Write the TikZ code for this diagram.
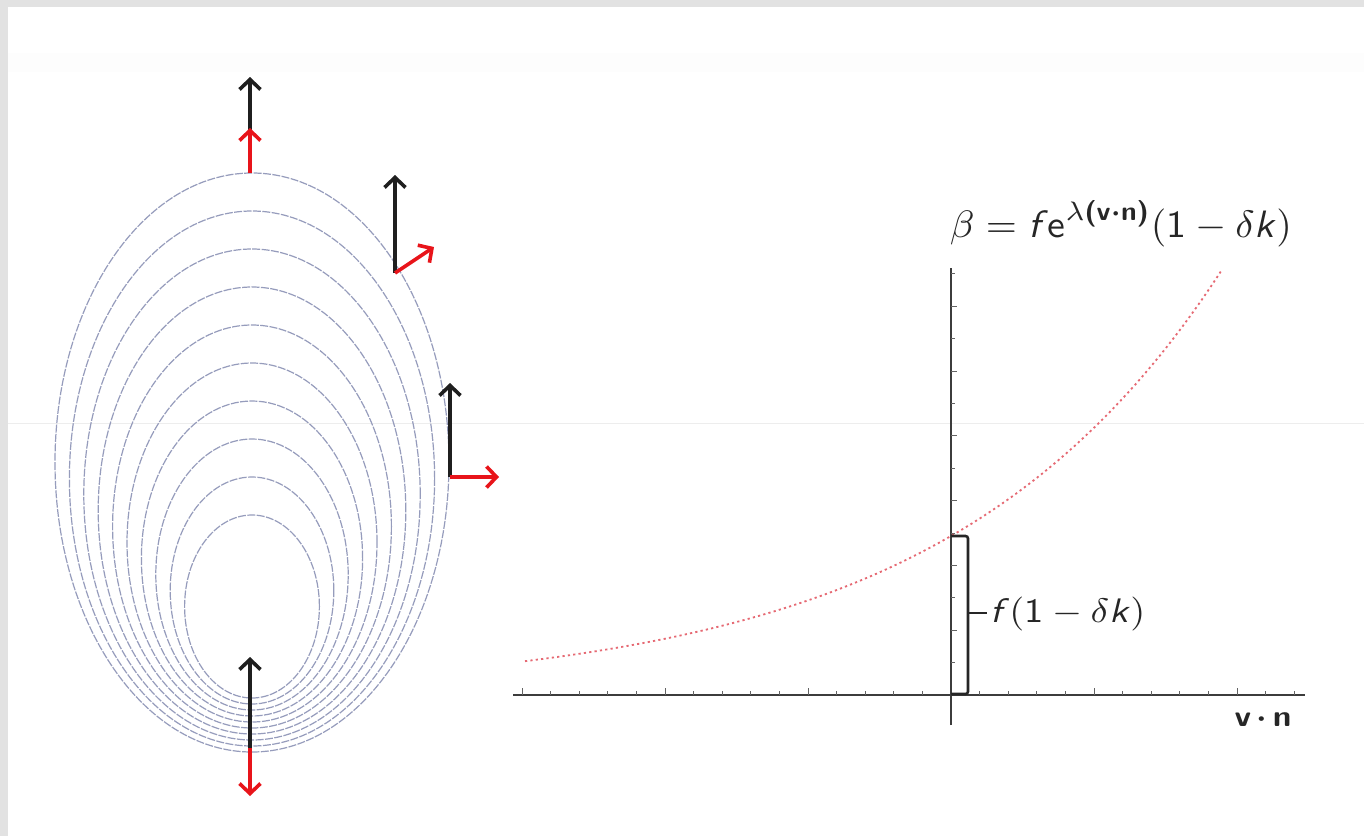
\documentclass[tikz,border=0pt]{standalone}
\usepackage{amsmath,amssymb}
\usetikzlibrary{arrows.meta}
\definecolor{bordergray}{RGB}{226,226,226}
\definecolor{ellcol}{RGB}{150,156,188}
\definecolor{arrred}{RGB}{232,20,26}
\definecolor{curvecol}{RGB}{230,105,115}
\definecolor{axiscol}{RGB}{60,60,60}
\begin{document}
\begin{tikzpicture}[x=1pt,y=-1pt,
  ellstyle/.style={draw=ellcol, line width=1.2pt, dash pattern=on 8pt off 1.4pt},
  blackarr/.style={draw=black!88, line width=3.6pt, -{Straight Barb[length=10pt,width=21pt]}},
  redarr/.style={draw=arrred, line width=3.6pt, -{Straight Barb[length=10pt,width=21pt]}},
  axisstyle/.style={draw=axiscol, line width=1.7pt},
  tickstyle/.style={draw=axiscol!80, line width=0.9pt},
  curvestyle/.style={draw=curvecol, line width=1.8pt, dash pattern=on 2.2pt off 3.2pt},
  bracestyle/.style={draw=black!85, line width=2.6pt},
  lbl/.style={inner sep=0pt, text=black!85}]
\useasboundingbox (0,0) rectangle (1364,836);
\fill[bordergray] (0,0) rectangle (1364,836);
\fill[white] (8,7) rectangle (1364,836);
\fill[black!0.6] (8,53) rectangle (1364,72);
\draw[black!7, line width=0.8pt] (8,423) -- (1364,423);

% nested ellipses
\foreach \i in {0,...,9}{
  \pgfmathsetmacro\etop{173+38*\i}
  \pgfmathsetmacro\ebot{752-6*\i}
  \pgfmathsetmacro\ea{197-14.4*\i}
  \pgfmathsetmacro\ecy{(\etop+\ebot)/2}
  \pgfmathsetmacro\eb{(\ebot-\etop)/2}
  \draw[ellstyle] (252,\ecy) ellipse [x radius=\ea pt, y radius=\eb pt];
}

% arrows on the front
\coordinate (topbase) at (250,173);
\coordinate (toptipK) at (250,77);
\coordinate (toptipR) at (250,128);
\coordinate (ubase) at (395,273);
\coordinate (utipK) at (395,175);
\coordinate (utipR) at (434,247);
\coordinate (mbase) at (450,477);
\coordinate (mtipK) at (450,383);
\coordinate (mtipR) at (499,477);
\coordinate (bbase) at (250,748);
\coordinate (btipK) at (250,657);
\coordinate (btipR) at (250,796);

\draw[blackarr] (topbase) -- (toptipK);
\draw[redarr] (topbase) -- (toptipR);
\draw[blackarr] (ubase) -- (utipK);
\draw[redarr] (ubase) -- (utipR);
\draw[blackarr] (mbase) -- (mtipK);
\draw[redarr] (mbase) -- (mtipR);
\draw[blackarr] (bbase) -- (btipK);
\draw[redarr] (bbase) -- (btipR);

% plot axes
\coordinate (xl) at (513,695);
\coordinate (xr) at (1305,695);
\coordinate (yt) at (951,268);
\coordinate (yb) at (951,725);
\draw[axisstyle] (xl) -- (xr);
\draw[axisstyle] (yb) -- (yt);
\foreach \k in {1,...,15}{
  \draw[tickstyle] ({951-28.6*\k},695) -- ({951-28.6*\k},{mod(\k,5)==0 ? 688 : 691});
}
\foreach \k in {1,...,12}{
  \draw[tickstyle] ({951+28.6*\k},695) -- ({951+28.6*\k},{mod(\k,5)==0 ? 688 : 691});
}
\foreach \k in {1,...,13}{
  \draw[tickstyle] (951,{695-32.4*\k}) -- ({mod(\k,2)==0 ? 957 : 955},{695-32.4*\k});
}

% curve
\draw[curvestyle] plot[domain=-426:271, samples=90] ({951+\x},{695-159*exp(0.003628*\x)});

% brace
\coordinate (bt) at (951,536);
\coordinate (bb) at (951,694);
\coordinate (bm) at (968,613);
\coordinate (bp) at (987,613);
\draw[bracestyle, rounded corners=2.5pt] (bt) -- (968,536) -- (968,694) -- (bb);
\draw[bracestyle] (bm) -- (bp);

% labels
\node[lbl] (formula) at (1121,224)
  {\resizebox*{342pt}{47pt}{$\beta = \textsf{\textit{f}e}^{\lambda\textbf{\textsf{(v}}\boldsymbol{\cdot}\textbf{\textsf{n)}}}(\textsf{1} - \delta\textsf{\textit{k}})$}};
\node[lbl, anchor=west] (flabel) at (990,614)
  {\resizebox*{155pt}{34pt}{$\textsf{\textit{f}}(\textsf{1} - \delta\textsf{\textit{k}})$}};
\node[lbl] (vn) at (1263,719)
  {\resizebox*{57pt}{14pt}{\textbf{\textsf{v}}\,$\boldsymbol{\cdot}$\,\textbf{\textsf{n}}}};
\end{tikzpicture}
\end{document}
